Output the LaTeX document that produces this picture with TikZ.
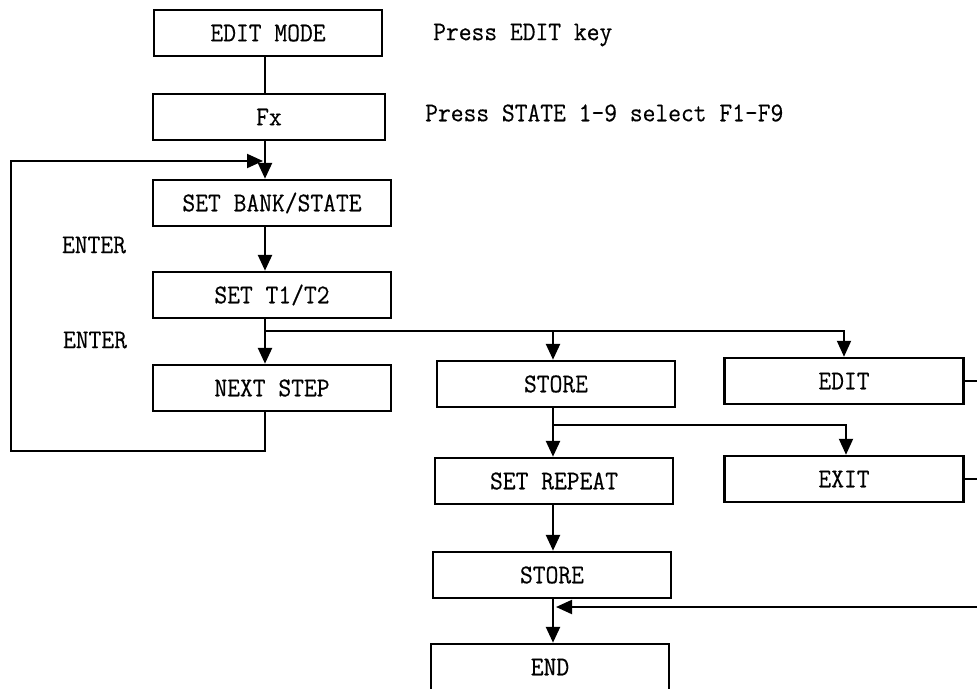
\documentclass[tikz,border=0pt]{standalone}
\usepackage{fontspec}
\setmonofont{Latin Modern Mono}[FakeStretch=0.92, FakeBold=0.4]
\usepackage{tikz}
\usetikzlibrary{positioning, arrows.meta, calc}

\begin{document}
\begin{tikzpicture}[x=1pt, y=-1pt, >={Triangle[length=16pt, width=14pt]},
    every node/.style={align=center, font=\fontsize{27}{27}\selectfont\ttfamily},
    stepbox/.style={draw, line width=2.5pt, minimum width=238pt, minimum height=46pt, inner sep=0pt},
    flow/.style={line width=2.6pt},
    link/.style={line width=2pt}]
    \useasboundingbox (0,0) rectangle (977,688);
    % Main column
    \node[stepbox, minimum width=228pt] (mode) at (268,33) {EDIT MODE};
    \node[stepbox, minimum width=232pt] (fx) at (269,117) {Fx};
    \node[stepbox] (bank) at (272,203) {SET BANK/STATE};
    \node[stepbox] (ttwo) at (272,295) {SET T1/T2};
    \node[stepbox] (next) at (272,388) {NEXT STEP};
    % Store column
    \node[stepbox] (store) at (556,384) {STORE};
    \node[stepbox] (repeat) at (554,481) {SET REPEAT};
    \node[stepbox] (storeb) at (552,575) {STORE};
    \node[stepbox] (finish) at (550,667) {END};
    % Edit column
    \node[stepbox, minimum width=239pt] (edit) at (844,381) {EDIT};
    \node[stepbox, minimum width=239pt] (exit) at (844,479) {EXIT};
    % Notes
    \node[anchor=west, inner sep=0pt] (keynote) at (433,35) {Press EDIT key};
    \node[anchor=west, inner sep=0pt] (fnote) at (425,113) {Press STATE 1-9 select F1-F9};
    \node (entera) at (94,245) {ENTER};
    \node (enterb) at (95,340) {ENTER};
    % Spines of the two columns
    \coordinate (spine) at (265,0);
    \coordinate (rspine) at (553,0);
    % Main flow
    \draw[flow] (mode.south -| spine) -- (fx.north -| spine);
    \draw[flow, ->] (fx.south -| spine) -- (bank.north -| spine);
    \draw[flow, ->] (bank.south -| spine) -- (ttwo.north -| spine);
    \draw[flow, ->] (ttwo.south -| spine) -- (next.north -| spine);
    % Loop back to SET BANK/STATE
    \coordinate (back) at (263,161);
    \draw[link, ->] (next.south -| spine) |- (11,451) -- (11,161) -- (back);
    % Branches after SET T1/T2
    \coordinate (fork) at (265,331);
    \draw[link, ->] (fork) -| (edit.north);
    \draw[flow, ->] (fork -| rspine) -- (store.north -| rspine);
    % Store column flow
    \coordinate (forkb) at (553,425);
    \draw[flow, ->] (store.south -| rspine) -- (repeat.north -| rspine);
    \draw[link, ->] (forkb) -| ([xshift=2pt]exit.north);
    \draw[flow, ->] (repeat.south -| rspine) -- (storeb.north -| rspine);
    \draw[flow, ->] (storeb.south -| rspine) -- (finish.north -| rspine);
    % Links running off the right edge
    \coordinate (edge) at (982,0);
    \draw[link] (edit.east) -- (edit.east -| edge);
    \draw[link] (exit.east) -- (exit.east -| edge);
    \coordinate (endin) at (982,607);
    \coordinate (merge) at (556,607);
    \draw[link, ->] (endin) -- (merge);
\end{tikzpicture}
\end{document}
